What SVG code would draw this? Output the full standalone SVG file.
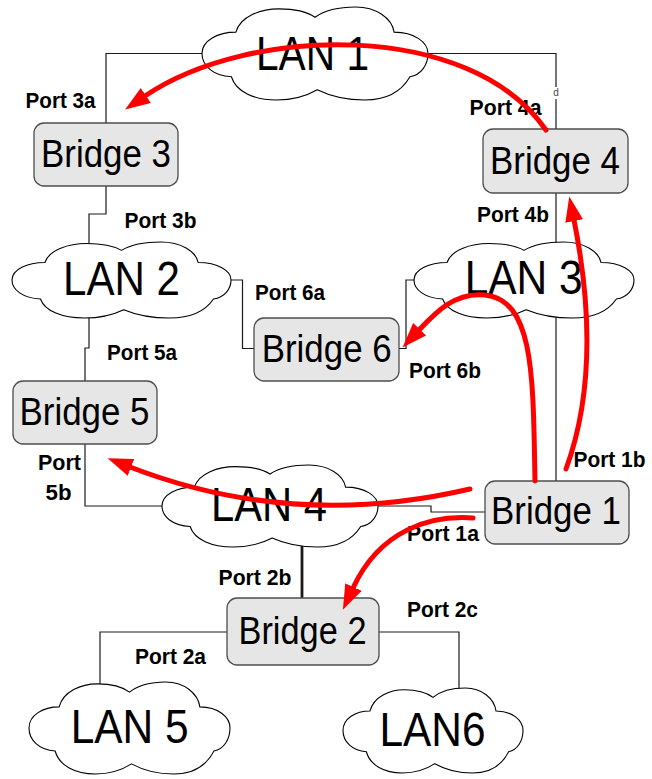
<svg xmlns="http://www.w3.org/2000/svg" xmlns:xlink="http://www.w3.org/1999/xlink" width="652" height="779" viewBox="0 0 652 779">
<style>
.bg{fill:#fff}
.cloud{fill:#fff;stroke:#000;stroke-width:1.1;vector-effect:non-scaling-stroke}
.box{fill:#e6e6e6;stroke:#4d4d4d;stroke-width:1.3}
.conn{fill:none;stroke:#1a1a1a;stroke-width:1.2}
.thick{stroke-width:2.8}
.red{fill:none;stroke:#ff0000;stroke-width:5;stroke-linecap:round}
.big{font-family:"Liberation Sans",Arial,sans-serif;fill:#000;text-anchor:middle}
.br{font-size:39px}
.lan{font-size:48px}
.port{font-family:"Liberation Sans",Arial,sans-serif;font-weight:bold;font-size:22px;fill:#000}
</style>
<defs>
<path id="cloud" class="cloud" d="M0,50 C0,36 7,27 15,27 C17,10 26,2 34,2 C42,2 47,6 50,11 C54,4 61,0 68,0 C77,0 84,12 85,27 C94,27 100,38 100,50 C100,62 97,73 92,75 C88,92 81,100 72,100 C63,100 56,95 51,89 C46,96 40,100 33,100 C23,100 15,91 13,75 C5,74 0,63 0,50 Z"/>
<marker id="ah" markerUnits="userSpaceOnUse" viewBox="0 0 25 18" markerWidth="25" markerHeight="18" refX="1" refY="9" orient="auto">
<path d="M0,0 L25,9 L0,18 Z" fill="#ff0000"/>
</marker>
</defs>
<rect class="bg" x="0" y="0" width="652" height="779"/>

<g id="connectors">
<path class="conn" d="M205,53.5 H106 V123"/>
<path class="conn" d="M425,53.5 H556 V87"/>
<path class="conn" d="M556,99 V129"/>
<path class="conn" d="M106,186 V214 H89 V250"/>
<path class="conn" d="M556,193 V250"/>
<path class="conn" d="M225,280 H242.5 V348.5 H254"/>
<path class="conn" d="M420,280 H406 V348.5 H399"/>
<path class="conn" d="M89,310 V348 H85 V381"/>
<path class="conn" d="M85,444 V506 H170"/>
<path class="conn" d="M556,310 V481"/>
<path class="conn" d="M370,506 H431 V512 H485"/>
<path class="conn thick" d="M302,540 V598"/>
<path class="conn" d="M227,632 H100 V690"/>
<path class="conn" d="M379,632 H459 V695"/>
<text x="556" y="96" font-family="Liberation Sans,Arial,sans-serif" font-size="10" fill="#444" text-anchor="middle">d</text>
</g>

<g id="lan1"><use xlink:href="#cloud" transform="translate(202,7) scale(2.26,0.93)"/><text class="big lan" x="312.5" y="70" font-size="51" textLength="113" lengthAdjust="spacingAndGlyphs">LAN 1</text></g>
<g id="lan2"><use xlink:href="#cloud" transform="translate(12,242) scale(2.19,0.76)"/><text class="big lan" x="121.5" y="295" textLength="117" lengthAdjust="spacingAndGlyphs">LAN 2</text></g>
<g id="lan3"><use xlink:href="#cloud" transform="translate(414,242) scale(2.2,0.76)"/><text class="big lan" x="523.7" y="294" textLength="118" lengthAdjust="spacingAndGlyphs">LAN 3</text></g>
<g id="lan4"><use xlink:href="#cloud" transform="translate(162,465) scale(2.16,0.82)"/><text class="big lan" x="269" y="521" textLength="116" lengthAdjust="spacingAndGlyphs">LAN 4</text></g>
<g id="lan5"><use xlink:href="#cloud" transform="translate(29,682) scale(2.01,0.92)"/><text class="big lan" x="129.7" y="743" textLength="118" lengthAdjust="spacingAndGlyphs">LAN 5</text></g>
<g id="lan6"><use xlink:href="#cloud" transform="translate(343,688) scale(1.8,0.85)"/><text class="big lan" x="432.5" y="746" textLength="106" lengthAdjust="spacingAndGlyphs">LAN6</text></g>

<g id="bridge3"><rect class="box" x="34" y="123" width="144" height="63" rx="10"/><text class="big br" x="106" y="167" textLength="130" lengthAdjust="spacingAndGlyphs">Bridge 3</text></g>
<g id="bridge4"><rect class="box" x="483" y="129" width="145" height="64" rx="10"/><text class="big br" x="555" y="174" textLength="130" lengthAdjust="spacingAndGlyphs">Bridge 4</text></g>
<g id="bridge6"><rect class="box" x="254" y="318" width="145" height="63" rx="10"/><text class="big br" x="326.7" y="361.7" textLength="130" lengthAdjust="spacingAndGlyphs">Bridge 6</text></g>
<g id="bridge5"><rect class="box" x="13" y="381" width="144" height="63" rx="10"/><text class="big br" x="84.5" y="425" textLength="130" lengthAdjust="spacingAndGlyphs">Bridge 5</text></g>
<g id="bridge1"><rect class="box" x="485" y="481" width="144" height="63" rx="10"/><text class="big br" x="556" y="524" textLength="130" lengthAdjust="spacingAndGlyphs">Bridge 1</text></g>
<g id="bridge2"><rect class="box" x="227" y="598" width="152" height="67" rx="10"/><text class="big br" x="302.5" y="644" textLength="128" lengthAdjust="spacingAndGlyphs">Bridge 2</text></g>

<g id="ports">
<text class="port" x="25.5" y="108" textLength="70" lengthAdjust="spacingAndGlyphs">Port 3a</text>
<text class="port" x="124.5" y="228" textLength="72" lengthAdjust="spacingAndGlyphs">Port 3b</text>
<text class="port" x="469.5" y="115" textLength="72" lengthAdjust="spacingAndGlyphs">Port 4a</text>
<text class="port" x="477" y="221.7" textLength="72" lengthAdjust="spacingAndGlyphs">Port 4b</text>
<text class="port" x="255" y="300" textLength="70" lengthAdjust="spacingAndGlyphs">Port 6a</text>
<text class="port" x="107" y="360" textLength="70" lengthAdjust="spacingAndGlyphs">Port 5a</text>
<text class="port" x="38" y="470" textLength="43" lengthAdjust="spacingAndGlyphs">Port</text>
<text class="port" x="45.5" y="500" textLength="26" lengthAdjust="spacingAndGlyphs">5b</text>
<text class="port" x="409" y="378.3" textLength="72" lengthAdjust="spacingAndGlyphs">Port 6b</text>
<text class="port" x="573.5" y="466.7" textLength="72" lengthAdjust="spacingAndGlyphs">Port 1b</text>
<text class="port" x="407" y="541" textLength="72" lengthAdjust="spacingAndGlyphs">Port 1a</text>
<text class="port" x="218.5" y="585" textLength="73" lengthAdjust="spacingAndGlyphs">Port 2b</text>
<text class="port" x="135" y="664" textLength="71" lengthAdjust="spacingAndGlyphs">Port 2a</text>
<text class="port" x="407" y="617.3" textLength="71" lengthAdjust="spacingAndGlyphs">Port 2c</text>
</g>

<g id="paths">
<path class="red" marker-end="url(#ah)" d="M546,130 C470,20 250,25 145,96"/>
<path class="red" marker-end="url(#ah)" d="M566,469 C595,390 590,300 574,220"/>
<path class="red" marker-end="url(#ah)" d="M535,481 C533,380 535,300 485,295 C455,292 436,312 419,330"/>
<path class="red" marker-end="url(#ah)" d="M470,489 C380,510 262,518 130,467"/>
<path class="red" marker-end="url(#ah)" d="M473,518 C430,515 380,530 353,588"/>
</g>
</svg>
